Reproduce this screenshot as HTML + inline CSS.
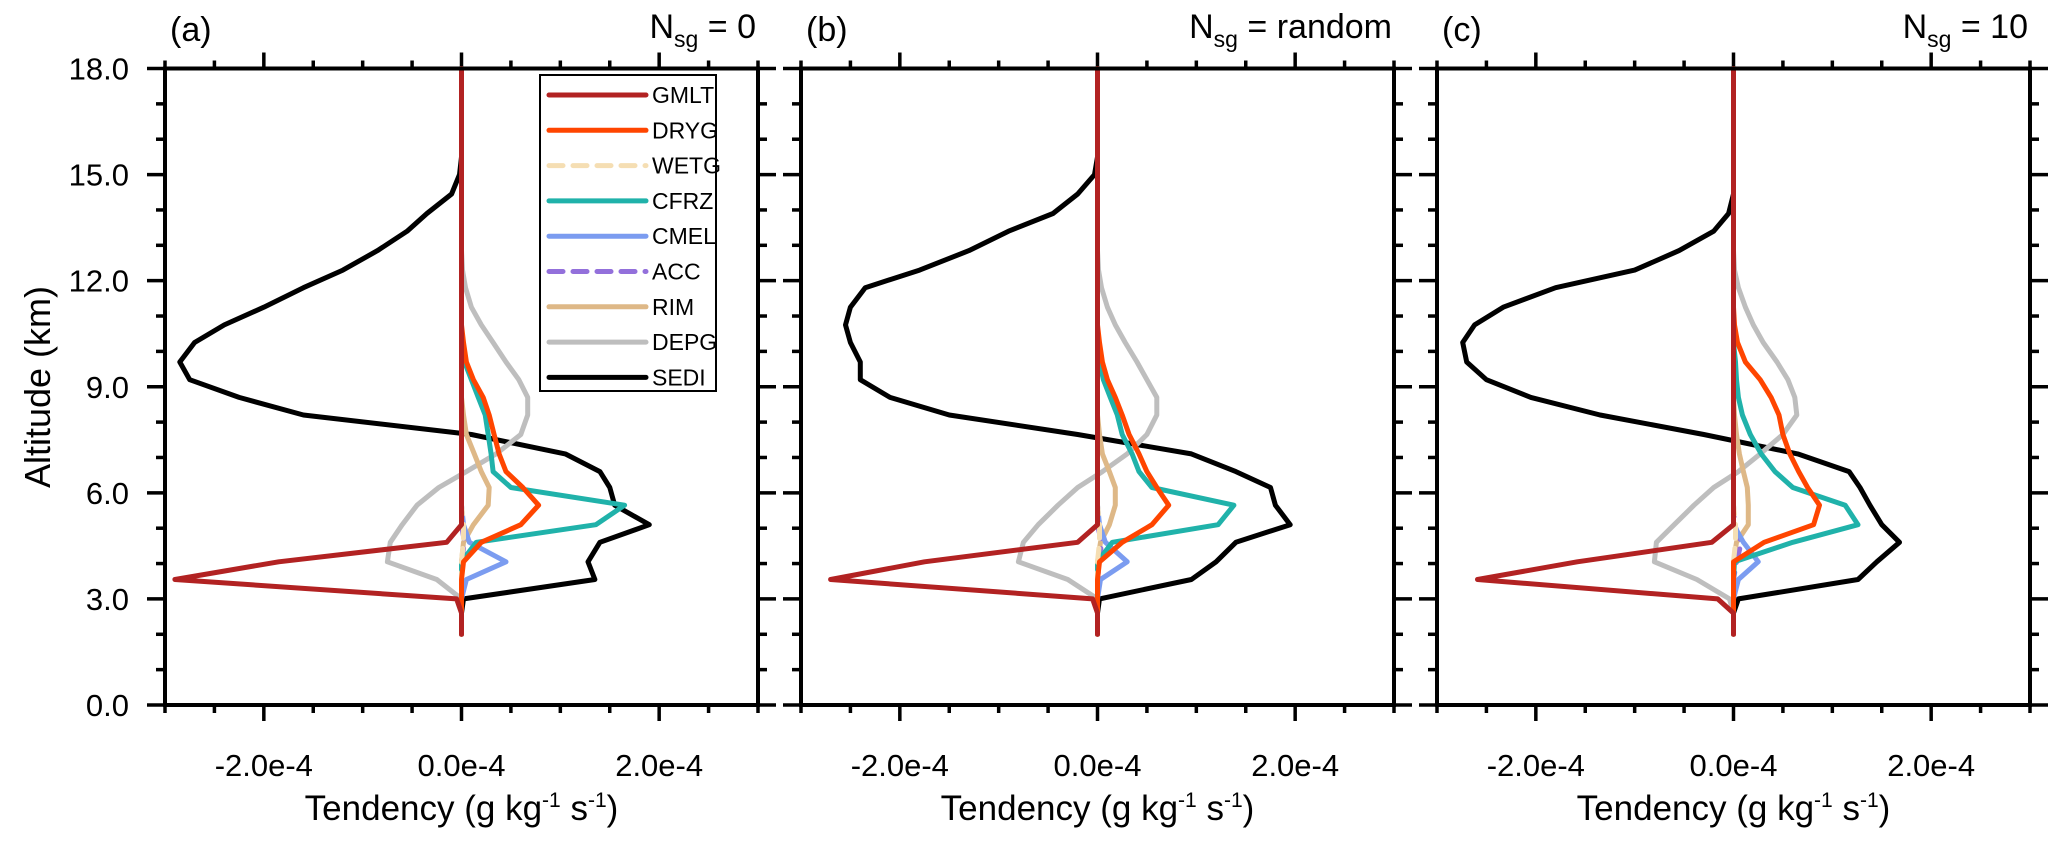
<!DOCTYPE html>
<html><head><meta charset="utf-8"><style>
html,body{margin:0;padding:0;background:#fff}
svg{display:block;font-family:"Liberation Sans",Arial,sans-serif}
</style></head><body>
<svg id="chart" width="2067" height="845" viewBox="0 0 2067 845" xmlns="http://www.w3.org/2000/svg"></svg>
<script>
// Altitude levels (km)
const altitudes = [2.0,2.6,3.0,3.55,4.05,4.6,5.1,5.65,6.15,6.6,7.1,7.65,8.2,8.7,9.2,9.7,10.25,10.75,11.25,11.8,12.3,12.85,13.4,13.9,14.45,15.0,15.5,16.0,18.0];
const seriesNames = ["SEDI","DEPG","RIM","ACC","CMEL","CFRZ","WETG","DRYG","GMLT"];
const legendOrder = ["GMLT","DRYG","WETG","CFRZ","CMEL","ACC","RIM","DEPG","SEDI"];
const xTickLabels = ["-2.0e-4","0.0e-4","2.0e-4"];
const xTickValues = [-2,0,2];
const yTickLabels = ["0.0","3.0","6.0","9.0","12.0","15.0","18.0"];
const yTickValues = [0,3,6,9,12,15,18];
const panelLetters = ["(a)","(b)","(c)"];
const panelNsg = ["0","random","10"];
// values in units of 1e-4 g/kg/s
const sedi_a = [0,0,0.02,1.35,1.28,1.4,1.9,1.55,1.5,1.4,1.05,0.1,-1.6,-2.25,-2.75,-2.85,-2.7,-2.4,-2.0,-1.6,-1.2,-0.85,-0.55,-0.35,-0.1,-0.02,0,0,0];
const gmlt_a = [0,0,-0.05,-2.9,-1.85,-0.15,0,0,0,0,0,0,0,0,0,0,0,0,0,0,0,0,0,0,0,0,0,0,0];
const dryg_a = [0,0,0,0,0.02,0.2,0.6,0.78,0.62,0.45,0.38,0.33,0.28,0.22,0.12,0.05,0.02,0,0,0,0,0,0,0,0,0,0,0,0];
const wetg_a = [0,0,0,0,0,0.02,0.02,0,0,0,0,0,0,0,0,0,0,0,0,0,0,0,0,0,0,0,0,0,0];
const cfrz_a = [0,0,0,0,0,0.15,1.36,1.65,0.5,0.32,0.3,0.27,0.24,0.17,0.1,0.03,0,0,0,0,0,0,0,0,0,0,0,0,0];
const cmel_a = [0,0,0,0.05,0.45,0.08,0.02,0,0,0,0,0,0,0,0,0,0,0,0,0,0,0,0,0,0,0,0,0,0];
const acc_a  = [0,0,0,0,0,0.03,0,0,0,0,0,0,0,0,0,0,0,0,0,0,0,0,0,0,0,0,0,0,0];
const rim_a  = [0,0,0,0,0,0.02,0.12,0.27,0.28,0.2,0.13,0.05,0.02,0,0,0,0,0,0,0,0,0,0,0,0,0,0,0,0];
const depg_a = [0,0,0,-0.25,-0.75,-0.72,-0.6,-0.45,-0.23,0.05,0.35,0.6,0.67,0.67,0.58,0.45,0.32,0.2,0.1,0.04,0.01,0,0,0,0,0,0,0,0];
const sedi_b = [0,0,0.02,0.95,1.2,1.4,1.95,1.8,1.75,1.4,0.95,-0.2,-1.5,-2.1,-2.4,-2.4,-2.5,-2.55,-2.5,-2.35,-1.8,-1.3,-0.9,-0.45,-0.2,-0.03,0,0,0];
const gmlt_b = [0,0,-0.05,-2.7,-1.75,-0.2,0,0,0,0,0,0,0,0,0,0,0,0,0,0,0,0,0,0,0,0,0,0,0];
const dryg_b = [0,0,0,0,0.02,0.25,0.55,0.72,0.6,0.5,0.42,0.32,0.25,0.18,0.1,0.05,0.02,0,0,0,0,0,0,0,0,0,0,0,0];
const wetg_b = [0,0,0,0,0,0.02,0.02,0,0,0,0,0,0,0,0,0,0,0,0,0,0,0,0,0,0,0,0,0,0];
const cfrz_b = [0,0,0,0,0,0.15,1.22,1.38,0.55,0.42,0.35,0.25,0.2,0.13,0.06,0.02,0,0,0,0,0,0,0,0,0,0,0,0,0];
const cmel_b = [0,0,0,0.03,0.3,0.08,0.02,0,0,0,0,0,0,0,0,0,0,0,0,0,0,0,0,0,0,0,0,0,0];
const acc_b  = [0,0,0,0,0.02,0.04,0,0,0,0,0,0,0,0,0,0,0,0,0,0,0,0,0,0,0,0,0,0,0];
const rim_b  = [0,0,0,0,0,0.03,0.12,0.18,0.18,0.12,0.05,0.02,0,0,0,0,0,0,0,0,0,0,0,0,0,0,0,0,0];
const depg_b = [0,0,0,-0.3,-0.8,-0.75,-0.6,-0.4,-0.2,0.05,0.3,0.5,0.6,0.6,0.5,0.4,0.28,0.18,0.1,0.04,0.01,0,0,0,0,0,0,0,0];
const sedi_c = [0,0,0.05,1.26,1.45,1.68,1.5,1.38,1.28,1.17,0.65,-0.3,-1.35,-2.05,-2.5,-2.7,-2.74,-2.62,-2.33,-1.8,-1.0,-0.55,-0.2,-0.05,0,0,0,0,0];
const gmlt_c = [0,0,-0.16,-2.59,-1.58,-0.22,0,0,0,0,0,0,0,0,0,0,0,0,0,0,0,0,0,0,0,0,0,0,0];
const dryg_c = [0,0,0,0,0,0.31,0.81,0.87,0.75,0.66,0.57,0.5,0.46,0.38,0.27,0.12,0.04,0.01,0,0,0,0,0,0,0,0,0,0,0];
const wetg_c = [0,0,0,0,0,0.02,0.02,0,0,0,0,0,0,0,0,0,0,0,0,0,0,0,0,0,0,0,0,0,0];
const cfrz_c = [0,0,0,0,0.01,0.6,1.26,1.13,0.6,0.42,0.28,0.17,0.09,0.05,0.03,0.02,0,0,0,0,0,0,0,0,0,0,0,0,0];
const cmel_c = [0,0,0,0.05,0.25,0.1,0,0,0,0,0,0,0,0,0,0,0,0,0,0,0,0,0,0,0,0,0,0,0];
const acc_c  = [0,0,0,0,0.03,0.08,0.01,0,0,0,0,0,0,0,0,0,0,0,0,0,0,0,0,0,0,0,0,0,0];
const rim_c  = [0,0,0,0,0,0.03,0.15,0.15,0.14,0.1,0.06,0.03,0.01,0,0,0,0,0,0,0,0,0,0,0,0,0,0,0,0];
const depg_c = [0,0,-0.04,-0.37,-0.8,-0.78,-0.6,-0.4,-0.2,0.05,0.27,0.5,0.64,0.62,0.55,0.44,0.3,0.2,0.12,0.05,0.01,0,0,0,0,0,0,0,0];

const panelData = [
 {SEDI:sedi_a,DEPG:depg_a,RIM:rim_a,ACC:acc_a,CMEL:cmel_a,CFRZ:cfrz_a,WETG:wetg_a,DRYG:dryg_a,GMLT:gmlt_a},
 {SEDI:sedi_b,DEPG:depg_b,RIM:rim_b,ACC:acc_b,CMEL:cmel_b,CFRZ:cfrz_b,WETG:wetg_b,DRYG:dryg_b,GMLT:gmlt_b},
 {SEDI:sedi_c,DEPG:depg_c,RIM:rim_c,ACC:acc_c,CMEL:cmel_c,CFRZ:cfrz_c,WETG:wetg_c,DRYG:dryg_c,GMLT:gmlt_c}
];
const styles = {
 GMLT:{c:"#b22222",d:""}, DRYG:{c:"#ff4500",d:""}, WETG:{c:"#f5deb3",d:"14 10"},
 CFRZ:{c:"#20b2aa",d:""}, CMEL:{c:"#7b9cf0",d:""}, ACC:{c:"#9370db",d:"14 10"},
 RIM:{c:"#deb887",d:""}, DEPG:{c:"#bebebe",d:""}, SEDI:{c:"#000000",d:""}
};

const NS="http://www.w3.org/2000/svg";
const svg=document.getElementById('chart');
function mk(tag,attrs,parent){const e=document.createElementNS(NS,tag);for(const k in attrs)e.setAttribute(k,attrs[k]);(parent||svg).appendChild(e);return e;}

const panelLefts=[165,801,1437];
const PW=593, PT=68.5, PB=705;
const XMIN=-3, XMAX=3, YMIN=0, YMAX=18;

panelLefts.forEach((L,pi)=>{
  const g=mk('g',{});
  
  
  const xs=v=>L+(v-XMIN)/(XMAX-XMIN)*PW;
  const ys=v=>PB-(v-YMIN)/(YMAX-YMIN)*(PB-PT);
  const R=L+PW;
  for(let v=-3;v<=3.001;v+=0.5){
    const major=Math.abs(v-Math.round(v/2)*2)<1e-6 && Math.abs(v)<3;
    const len=major?16:8;
    const x=xs(v);
    const t1=mk('line',{x1:x,y1:PB,x2:x,y2:PB+len,stroke:'#000','stroke-width':3.5},g);
    
    
    const t2=mk('line',{x1:x,y1:PT,x2:x,y2:PT-len,stroke:'#000','stroke-width':3.5},g);
    
    
  }
  for(let v=0;v<=18;v+=1){
    const major=v%3===0;
    const len=major?18:9;
    const y=ys(v);
    const t1=mk('line',{x1:L,y1:y,x2:L-len,y2:y,stroke:'#000','stroke-width':3.5},g);
    
    
    const t2=mk('line',{x1:R,y1:y,x2:R+len,y2:y,stroke:'#000','stroke-width':3.5},g);
    
    
  }
  seriesNames.forEach(name=>{
    const vals=panelData[pi][name];
    const pts=vals.map((v,i)=>xs(v).toFixed(1)+','+ys(altitudes[i]).toFixed(1)).join(' ');
    const st=styles[name];
    const p=mk('polyline',{points:pts,fill:'none',stroke:st.c,'stroke-width':5,'stroke-linejoin':'round','stroke-linecap':'round'},g);
    if(st.d)p.setAttribute('stroke-dasharray',st.d);
    
    
  });
  const fr=mk('rect',{x:L,y:PT,width:PW,height:PB-PT,fill:'none',stroke:'#000','stroke-width':4},g);
  
  
  xTickValues.forEach((v,i)=>{
    const t=mk('text',{x:xs(v),y:776,'font-size':31,'text-anchor':'middle'},g);
    t.textContent=xTickLabels[i];
    
    
  });
  const xt=mk('text',{x:L+PW/2,y:820,'font-size':35,'text-anchor':'middle'},g);
  
  
  xt.innerHTML='Tendency (g kg<tspan dy="-13" font-size="21">-1</tspan><tspan dy="13"> s</tspan><tspan dy="-13" font-size="21">-1</tspan><tspan dy="13">)</tspan>';
  const pl=mk('text',{x:L+5,y:41,'font-size':34},g);
  pl.textContent=panelLetters[pi];
  
  
  const nt=mk('text',{x:R-2,y:38,'font-size':34,'text-anchor':'end'},g);
  nt.innerHTML='N<tspan dy="9" font-size="23">sg</tspan><tspan dy="-9"> = '+panelNsg[pi]+'</tspan>';
  
  
  if(pi===0){
    yTickValues.forEach((v,i)=>{
      const t=mk('text',{x:129,y:ys(v)+11,'font-size':31,'text-anchor':'end'},g);
      t.textContent=yTickLabels[i];
      
      
    });
    const yt=mk('text',{x:0,y:0,'font-size':36,'text-anchor':'middle',transform:'translate(50,387) rotate(-90)'},g);
    yt.textContent='Altitude (km)';
    
    
    const lg=mk('g',{},g);
    
    
    mk('rect',{x:540,y:75,width:176,height:316,fill:'#fff',stroke:'#000','stroke-width':2},lg);
    legendOrder.forEach((name,i)=>{
      const y=95+i*35.3;
      const e=mk('g',{},lg);
      
      
      const st=styles[name];
      const ln=mk('line',{x1:549,y1:y,x2:646,y2:y,stroke:st.c,'stroke-width':5,'stroke-linecap':'round'},e);
      if(st.d)ln.setAttribute('stroke-dasharray',st.d);
      const tx=mk('text',{x:652,y:y+8,'font-size':23},e);
      tx.textContent=name;
    });
  }
});
</script>
</body></html>
